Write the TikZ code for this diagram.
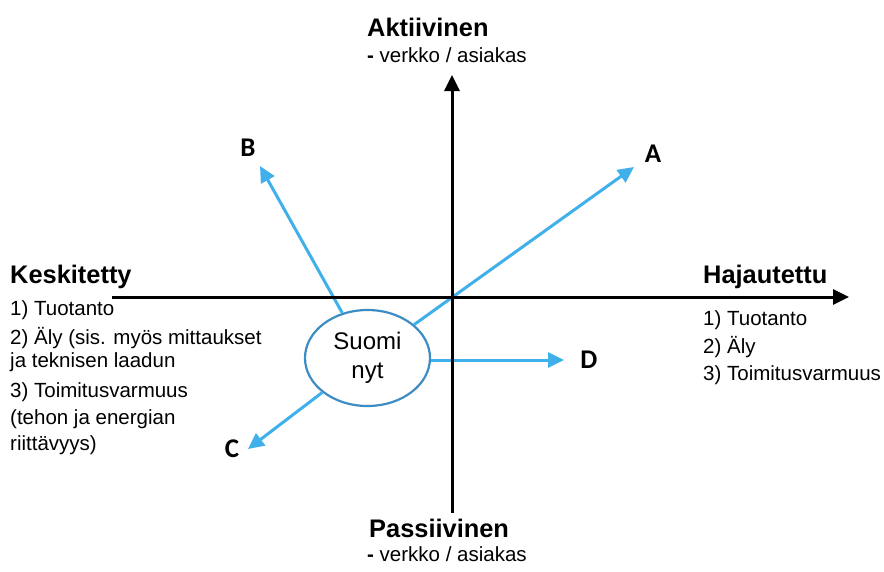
\documentclass[tikz,border=0pt]{standalone}
\usepackage{fontspec}
\setmainfont{Liberation Sans}
\newfontfamily\letterfont{Carlito}
\usetikzlibrary{arrows.meta,shapes.geometric}
\definecolor{arrowblue}{RGB}{64,176,234}
\definecolor{ringblue}{RGB}{62,140,196}
\tikzset{
  axis/.style={line width=3pt,-{Triangle[length=16pt,width=15pt]}},
  bluearrow/.style={draw=arrowblue,line width=3pt,-{Triangle[length=16pt,width=15pt]}},
  heading/.style={anchor=base west,inner sep=0pt,font=\fontsize{25.4}{28}\selectfont\bfseries},
  bodytext/.style={anchor=base west,inner sep=0pt,font=\fontsize{20.5}{24}\selectfont},
  letter/.style={inner sep=0pt,font=\fontsize{27}{30}\selectfont\letterfont\bfseries},
  nowbox/.style={ellipse,draw=ringblue,line width=2.2pt,fill=white,minimum width=125pt,minimum height=96pt,inner sep=0pt,align=center,font=\fontsize{24}{29}\selectfont}
}
\begin{document}
\begin{tikzpicture}[x=1pt,y=-1pt]
\useasboundingbox (0,0) rectangle (884,571);
% axes endpoints
\coordinate (hstart) at (112,297);
\coordinate (hend) at (849,297);
\coordinate (vstart) at (452,513);
\coordinate (vend) at (452,75);
% central ellipse
\node[nowbox] (suomi) at (367.5,358) {Suomi\\nyt};
% arrow tips
\coordinate (tipA) at (634,167);
\coordinate (tipB) at (260,166);
\coordinate (tipC) at (248,449);
\coordinate (tipD) at (564,360);
\draw[bluearrow] (suomi) -- (tipA);
\draw[bluearrow] (suomi) -- (tipB);
\draw[bluearrow] (suomi) -- (tipC);
\draw[bluearrow] (suomi.east |- tipD) -- (tipD);
\draw[axis] (hstart) -- (hend);
\draw[axis] (vstart) -- (vend);
% letters
\node[letter] (la) at (653,154) {A};
\node[letter] (lb) at (248,148) {B};
\node[letter] (lc) at (232,449) {C};
\node[letter] (ld) at (589,360) {D};
% top
\node[heading] (akt) at (367,36) {Aktiivinen};
\node[bodytext] (akt2) at (367,62) {\textbf{-} verkko / asiakas};
% bottom
\node[heading] (pas) at (369,537) {Passiivinen};
\node[bodytext] (pas2) at (367,561) {\textbf{-} verkko / asiakas};
% left
\node[heading] (kes) at (10,283) {Keskitetty};
\node[bodytext] (k1) at (10,315) {1) Tuotanto};
\node[bodytext] (k2) at (10,344) {2) Äly (sis. myös mittaukset};
\node[bodytext] (k3) at (10,367) {ja teknisen laadun};
\node[bodytext] (k4) at (10,397) {3) Toimitusvarmuus};
\node[bodytext] (k5) at (10,424) {(tehon ja energian};
\node[bodytext] (k6) at (10,450) {riittävyys)};
% right
\node[heading] (haj) at (703,283) {Hajautettu};
\node[bodytext] (h1) at (703,325) {1) Tuotanto};
\node[bodytext] (h2) at (703,353) {2) Äly};
\node[bodytext] (h3) at (703,380) {3) Toimitusvarmuus};
\end{tikzpicture}
\end{document}
